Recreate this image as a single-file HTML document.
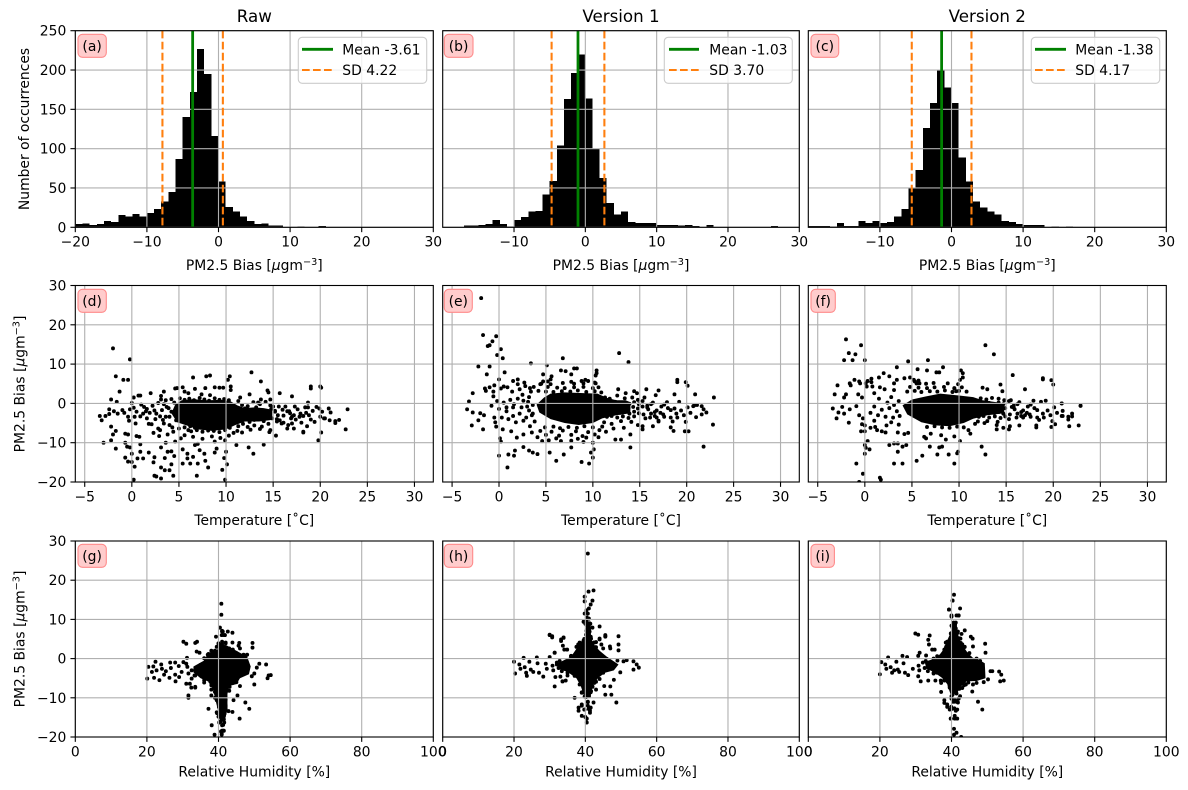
<!DOCTYPE html>
<html lang="en">
<head>
<meta charset="utf-8">
<title>PM2.5 bias</title>
<style>
html,body{margin:0;padding:0;background:#fff;}
svg{display:block;}
text{font-family:"DejaVu Sans","Liberation Sans",sans-serif;font-size:13.9px;fill:#000;}
.ttl{font-size:16.7px;text-anchor:middle;}
.xl{text-anchor:middle;}
.yl{text-anchor:middle;}
.lab{text-anchor:middle;}
.lab-box{fill:#ffcccc;stroke:#ff8a8a;stroke-width:1.1;}
.leg-box{fill:#fff;fill-opacity:.8;stroke:#ccc;stroke-width:1.1;}
.mean{stroke:#008000;stroke-width:2.78;}
.sd{stroke:#ff7f0e;stroke-width:2.08;stroke-dasharray:7.7 3.3;}
</style>
</head>
<body>
<svg xmlns="http://www.w3.org/2000/svg" width="1188" height="790" viewBox="0 0 1188 790">
<rect width="1188" height="790" fill="#fff"/>
<defs>
<clipPath id="c-a"><rect x="75.3" y="30.7" width="358" height="196.6"/></clipPath>
<clipPath id="c-b"><rect x="442.7" y="30.7" width="356.6" height="196.6"/></clipPath>
<clipPath id="c-c"><rect x="808.3" y="30.7" width="358" height="196.6"/></clipPath>
<clipPath id="c-d"><rect x="75.3" y="285.5" width="358" height="196.5"/></clipPath>
<clipPath id="c-e"><rect x="442.7" y="285.5" width="356.6" height="196.5"/></clipPath>
<clipPath id="c-f"><rect x="808.3" y="285.5" width="358" height="196.5"/></clipPath>
<clipPath id="c-g"><rect x="75.3" y="541" width="358" height="196"/></clipPath>
<clipPath id="c-h"><rect x="442.7" y="541" width="356.6" height="196"/></clipPath>
<clipPath id="c-i"><rect x="808.3" y="541" width="358" height="196"/></clipPath>
</defs>

<text class="ttl" x="254.3" y="22">Raw</text>
<text class="ttl" x="621" y="22">Version 1</text>
<text class="ttl" x="987.3" y="22">Version 2</text>

<g id="plot-a"></g>
<g id="plot-b"></g>
<g id="plot-c"></g>
<g id="plot-d"></g>
<g id="plot-e"></g>
<g id="plot-f"></g>
<g id="plot-g"></g>
<g id="plot-h"></g>
<g id="plot-i"></g>

<g>
<rect class="leg-box" x="298.3" y="37.3" width="128.4" height="46" rx="3.9"/>
<line class="mean" x1="302" x2="333" y1="49.3" y2="49.3"/>
<line class="sd" x1="302" x2="333" y1="70" y2="70"/>
<text x="342.3" y="54.5">Mean -3.61</text>
<text x="342.3" y="75.2">SD 4.22</text>
</g>
<g>
<rect class="leg-box" x="664.3" y="37.3" width="128" height="46" rx="3.9"/>
<line class="mean" x1="669" x2="699" y1="49.3" y2="49.3"/>
<line class="sd" x1="669" x2="699" y1="70" y2="70"/>
<text x="709.3" y="54.5">Mean -1.03</text>
<text x="709.3" y="75.2">SD 3.70</text>
</g>
<g>
<rect class="leg-box" x="1031.3" y="37.3" width="128.4" height="46" rx="3.9"/>
<line class="mean" x1="1035" x2="1066" y1="49.3" y2="49.3"/>
<line class="sd" x1="1035" x2="1066" y1="70" y2="70"/>
<text x="1075.3" y="54.5">Mean -1.38</text>
<text x="1075.3" y="75.2">SD 4.17</text>
</g>

<g><rect class="lab-box" x="78" y="34.3" width="28.3" height="23" rx="4.5"/><text class="lab" x="92.1" y="50.8">(a)</text></g>
<g><rect class="lab-box" x="444.3" y="34.3" width="28.7" height="23" rx="4.5"/><text class="lab" x="458.6" y="50.8">(b)</text></g>
<g><rect class="lab-box" x="811" y="34.3" width="27.7" height="23" rx="4.5"/><text class="lab" x="824.8" y="50.8">(c)</text></g>
<g><rect class="lab-box" x="78" y="289.3" width="28.3" height="23" rx="4.5"/><text class="lab" x="92.1" y="305.8">(d)</text></g>
<g><rect class="lab-box" x="444.3" y="289.3" width="28" height="23" rx="4.5"/><text class="lab" x="458.3" y="305.8">(e)</text></g>
<g><rect class="lab-box" x="811" y="289.3" width="24.3" height="23" rx="4.5"/><text class="lab" x="823.1" y="305.8">(f)</text></g>
<g><rect class="lab-box" x="78" y="544.3" width="28.3" height="23" rx="4.5"/><text class="lab" x="92.1" y="560.8">(g)</text></g>
<g><rect class="lab-box" x="444.3" y="544.3" width="28.4" height="23" rx="4.5"/><text class="lab" x="458.5" y="560.8">(h)</text></g>
<g><rect class="lab-box" x="811" y="544.3" width="23.4" height="23" rx="4.5"/><text class="lab" x="822.7" y="560.8">(i)</text></g>

<text class="xl" x="254.3" y="270">PM2.5 Bias [<tspan font-style="italic">μ</tspan>gm<tspan dy="-5" style="font-size:9.7px">−3</tspan><tspan dy="5">]</tspan></text>
<text class="xl" x="621" y="270">PM2.5 Bias [<tspan font-style="italic">μ</tspan>gm<tspan dy="-5" style="font-size:9.7px">−3</tspan><tspan dy="5">]</tspan></text>
<text class="xl" x="987.3" y="270">PM2.5 Bias [<tspan font-style="italic">μ</tspan>gm<tspan dy="-5" style="font-size:9.7px">−3</tspan><tspan dy="5">]</tspan></text>
<text class="xl" x="254.3" y="525">Temperature [˚C]</text>
<text class="xl" x="621" y="525">Temperature [˚C]</text>
<text class="xl" x="987.3" y="525">Temperature [˚C]</text>
<text class="xl" x="254.3" y="776.5">Relative Humidity [%]</text>
<text class="xl" x="621" y="776.5">Relative Humidity [%]</text>
<text class="xl" x="987.3" y="776.5">Relative Humidity [%]</text>
<text class="yl" transform="translate(29,129) rotate(-90)">Number of occurrences</text>
<text class="yl" transform="translate(24.3,384) rotate(-90)">PM2.5 Bias [<tspan font-style="italic">μ</tspan>gm<tspan dy="-5" style="font-size:9.7px">−3</tspan><tspan dy="5">]</tspan></text>
<text class="yl" transform="translate(24.3,639) rotate(-90)">PM2.5 Bias [<tspan font-style="italic">μ</tspan>gm<tspan dy="-5" style="font-size:9.7px">−3</tspan><tspan dy="5">]</tspan></text>

<script>
const binStart = -20;
const binWidth = 1;
const countsRaw = [4,5,3,4,8,7,15.5,14,17,14,18,23,33,45,87,140,172,227,195,116,58,26,20,14,8,4,5,2,2,.5,0,1,0,0,1.5];
const countsV1 = [0,0,0,2,2,3,4,9,4,1,9,13,20,21,42,59,104,163,196,220,164,100,63,31,16,20,7,5.5,5.5,5.5,3,3,3,2,3,1.5,0,3,0,0,0,0,0,0,0,0,1.5];
const countsV2 = [1.5,1.5,1.5,1,5.5,1.5,1.5,8,5.5,8,5.5,7,14,23,50,73,126,158,200,178,158,89,58,33,25,20,16,8,7,4,3,3,3,0,1,0,1];
const meanRaw = -3.61;
const sdRaw = 4.22;
const meanV1 = -1.03;
const sdV1 = 3.70;
const meanV2 = -1.38;
const sdV2 = 4.17;
const histTicksFull = [-20,-10,0,10,20,30];
const histTicksShort = [-10,0,10,20,30];
const countTicks = [0,50,100,150,200,250];
const tempTicks = [-5,0,5,10,15,20,25,30];
const humidityTicks = [0,20,40,60,80,100];
const biasTicks = [-20,-10,0,10,20,30];

/* outlines of the fully overplotted regions: [x value, bias] */
const denseTempRaw = [[4.6,-.3],[5.3,.8],[6.5,1.1],[8,.8],[9.5,.9],[10.5,.5],[11.2,-.5],[12,-1.2],[13,-1],[14,-1.2],[14.9,-1.6],[14.9,-4.2],[13.5,-4.6],[12,-4.6],[11,-5.5],[10,-6.6],[8.5,-7],[7,-6.6],[5.8,-5.6],[4.8,-4.8],[4.2,-2.5]];
const denseTempV1 = [[4,-.3],[4.8,1.5],[5.5,2.5],[7,2.8],[9,2.6],[10.5,2.5],[11.5,1.4],[12.5,.8],[13.5,.8],[14,.3],[14,-2.5],[12.5,-3],[11,-3.8],[10,-5],[8.5,-5.5],[7,-5],[5.5,-4],[4.3,-2.3]];
const denseTempV2 = [[4,-.5],[5,1],[6.5,1.8],[8,2.5],[10,2],[11.5,1.6],[12.5,.8],[14,.3],[14.8,-.2],[14.8,-2.5],[13,-3],[11.5,-3.9],[10.5,-5],[9,-5.8],[7.5,-5.6],[6,-4.8],[4.5,-2.8]];
const denseHumidityRaw = [[33,-2],[36,-.5],[37.5,1.5],[40,2],[42,3.5],[44,2.5],[46,1.5],[48,.5],[49,-2],[48.5,-4],[46,-5],[45,-6.5],[43,-7],[42.5,-9],[42.5,-13],[41.7,-16],[40.5,-16],[39.8,-13],[39,-10],[38.5,-8],[37.5,-6],[35,-5],[33,-3.5]];
const denseHumidityV1 = [[32,-1.3],[36,.5],[37.5,2.5],[38.5,4],[40,5.5],[40.3,9.5],[41.5,9.5],[41.6,5],[42.5,3.5],[44,2],[46,.5],[48,-.7],[49.3,-1.5],[48,-3],[45.5,-3.6],[43.5,-5],[42,-7],[41.5,-9.5],[39.7,-9.5],[38.7,-7],[37.5,-5],[35,-3.4],[33,-2.8]];
const denseHumidityV2 = [[32.5,-.8],[36,.2],[37.5,2],[38.5,4],[39.7,6.5],[40.4,9.5],[41.3,9.5],[42,5.5],[43,3.5],[44.5,1.5],[46,.2],[48,-.5],[49.3,-1.2],[49.5,-5],[47,-5.7],[44,-5.8],[42.3,-7.5],[41.5,-9],[39.7,-9],[38.8,-6.5],[37.5,-5],[35,-3.4],[33,-2.6]];

/* samples: [temperature, relative humidity, bias] */
const samplesRaw = [
[5.1,38.6,1.3],[5.6,43,.9],[6.1,37.2,1.2],[6.6,41.5,.8],[7.2,45,1.4],[7.7,39.5,1],[8.2,46.2,.7],[8.8,42.2,1.3],[9.3,40.4,.9],[9.8,44,1.1],[10.3,47.6,.8],
[5.6,39.8,-6.1],[6.2,43.5,-5.8],[6.7,38.8,-6.2],[7.2,41.3,-5.9],[7.8,45,-6],[8.3,40.2,-6.3],[8.8,37.7,-5.8],[9.3,42.3,-6.1],[9.8,39.3,-5.9],[10.4,44,-6.2],
[6.3,41,-7.1],[6.9,38.9,-6.8],[7.5,43.1,-7.2],[8.1,40.6,-6.9],[8.7,42.5,-7],[9.3,39.7,-7.3],[9.9,41.8,-6.8],
[-2,40.8,14],[-.2,40.8,11.2],[12.7,40.4,7.9],[-1.7,41,6.9],[6.5,43.9,6.6],[7.9,42.6,6.9],[8.3,41,7.1],[10.4,41.2,6.9],[10.2,40.9,6],[-.9,41.6,6],[-.4,41.8,6],[13.7,39.3,5.6],
[-1.3,41,3],[-2.2,40,1],[-1.6,40.5,.4],[19,30.2,4.3],[19,31,3.8],[20,34,4.3],[20.1,33.5,4],[4.6,40,3.8],[4.8,42,3.9],[6.7,41,3.7],[7.8,40,3.9],[8.8,43.9,4.1],[9.3,45.8,4],[9.7,49.5,4],[10.5,41,4.3],[10.5,40.5,3.4],[5.4,42,4.1],[5.6,39.5,3],[3.4,41.5,3],[2,40.5,2.6],[.7,38,2],[.9,39,2],[.2,38.5,1.5],[3.1,39.8,1.9],[6,43,2.6],[7.4,40.9,2.3],[8.3,42,2.1],[14.4,45.6,3.3],[14.5,49.5,2.8],[15.7,46,2.6],[12.5,44,2.3],[17,33.9,1.8],[18.7,31.2,.2],[11.5,34.7,1.5],[13.7,47,1],[14.7,48,1],
[-3,31.6,-10],[-2.2,31.6,-9.4],[-1.7,41,-11.5],[-2,40,-7.9],[-2.2,39,-5.9],[-1.7,40.5,-7],[-.7,39,-10],[-.7,41,-7.7],[-.4,42,-7.9],[-.5,40,-11],[-.2,41.5,-11.2],[-.7,41,-13.8],[-.4,40,-14.8],[0,41,-14.9],[.3,40.5,-16.1],[.2,38.9,-19.4],[0,42,-12.8],[.6,40,-14],[1.2,41,-14],[1.8,40.3,-12.5],[.9,41.2,-12.3],[2.4,39.5,-13.7],[2.3,40.7,-15],[2.4,41,-18.4],[2.6,40.7,-18.6],[3.1,40.9,-19.1],[3.1,41.6,-16.3],[3.5,38.1,-17],[4,41,-17],[4.4,41.5,-18.4],[4.2,41,-15.5],[4.5,42.8,-13.4],[3.5,39.6,-13.9],[3.8,40.1,-12.3],[4.2,41.7,-12.2],[3.1,40.4,-11.2],[3.6,41.1,-10],[4.6,39.7,-9.7],[5.4,40.8,-15.3],[5.9,41.7,-14],[6.2,41,-15.3],[6.5,43.9,-13.6],[7,45.9,-15.3],[6.9,41.3,-18.4],[8.1,40.2,-16.3],[7.8,41.5,-14.6],[7.2,42,-11.9],[6.7,39.5,-10.6],[5.4,40.8,-11.7],[5.9,41.2,-12.8],[7.7,37.2,-12.8],[8.8,40.9,-12.5],[9,41.7,-11.5],[9.6,41.3,-16.9],[9.9,40.9,-19.4],[9.8,40.5,-13.9],[10,42,-12.3],[10.1,41.5,-15.5],[9.9,45.3,-9.4],[11.1,44.2,-10.6],[12.4,47.5,-11.2],[12.9,48.6,-12.8],[14,42,-10.5],[15.3,43,-8.2],[19.8,38,-9.4],[20.1,32.4,-7.4],[22.7,50,-6.6],[18.2,33.5,-7.4],
[11.3,38,.6],[11.7,42,-.4],[12,44.5,-1.3],[12.4,40,-2.3],[12.8,46,-3.2],[13.2,39,-1],[13.6,43,-.2],[14,47,-2],[14.4,41,-3.6],[14.8,37,-1.4],[11.5,45,-4.2],[12,41,-3.4],[12.5,39.5,-4.7],[13,44,-4.2],[13.5,38.5,-3.3],[14,42,-4.5],[14.5,46,-2.6],[15,40,-.8],[11.4,37,-2.8],[11.8,47.5,-2],[12.3,43,-.7],[12.9,41.5,.3],[13.4,45.5,.2],[14.2,39,.4],[14.7,43,-.5],[11.3,42.5,-5.8],[11.8,40,-5.2],[12.3,44,-6],[13,38,-5.6],[13.8,41,-5.9],[14.5,39,-5.2],[14.9,43,-3.8],[11.2,46,-7],[11.7,39,-7.4],[12.6,41,-6.7],[13.6,42,-6.5],[14.6,40.5,-7.3],[14.7,38,-6.8],
[15.2,20.4,-2.1],[15.9,20.1,-5.1],[16.3,22.4,-.8],[16.7,21.8,-2],[17,21.4,-3.4],[17.2,22.7,-3],[16.1,22,-4.9],[16.6,23.5,-5.5],[17.6,24,-1.5],[17.9,24.2,-2.6],[17.4,24.8,-4.1],[18.2,25.3,-3.2],[18.7,26.5,-1],[18.5,26.7,-2.4],[18,26.3,-4.9],[18.4,27.9,-1],[18.6,28,-5.8],[19,27.9,-4.1],[19.2,28.9,-1.9],[19.4,29,-4.7],[19.6,30.2,-.9],[19.9,31,-1.3],[20,29.7,-3.4],[20.2,31.3,-2.1],[20.5,31.6,-3.8],[17.2,31,-6.4],[16.5,32,-6.4],[18.2,33.5,-7.2],[17,32.5,-5.1],[15.5,32.5,-3],[15.7,33.3,-4.3],[20.9,51.4,-1.3],[21.1,50.7,-2.3],[22.9,53.3,-1.5],[21,54,-4.3],[22,54.6,-4.2],[21.6,53.7,-5],[20.4,50,-3.8],[21.6,49.3,-4.5],[16,35,-1.6],[16.8,34,-2.5],[15.4,36,-4],[18.8,35,-3],
[-3.4,34,-3.2],[-3.2,35,-4.3],[-2.8,36,-3.2],[-2.4,35.5,-1.5],[-2.4,37,-2.7],[-1.9,38,-2],[-1.5,36.5,-2.6],[-1,37.5,-1.7],[-.8,39,-2.4],[-.4,38,-3.4],[-.3,39.5,-4.4],[0,40,.1],[.2,38.5,-1.1],[.5,36,-2.1],[.4,41,-5.1],[.5,40,-8.3],[.8,39,-8.5],[.9,41,-10.4],[1.2,37,-2.6],[1.3,38,-.9],[1.6,36,-3.8],[1.9,39,-2.4],[2.1,37.5,-5.3],[2.3,41,-7.5],[2.2,36.5,-.6],[2.6,40,-2.6],[2.8,38,-6.4],[2.9,42,-8.3],[3.1,37,1],[3.2,35,-1.7],[3.4,40,-5.1],[3.6,34.5,-3.4],[3.7,38,-.9],[4,36,-5.5],[4.2,39.5,-2.1],[4.4,42,-7.2],[4.5,37,.2],[4.7,33.5,-4.3],[5,41,-6.4],[5.6,40,-8.1],[6,42,-6.8],[6.5,39.5,-8.5],[7.5,41,-9],[8.5,40,-8.4],[9.4,41.5,-8.8],[10.3,42.2,-8.2],[10.8,40.5,-7.5],[5.2,41,-8.9],[8.8,40.8,-9.7],[7,40.3,-10.3],
[1,37,-.3],[1.6,39,-1.4],[2.4,35,-1.8],[3,38,-3.3],[3.4,36.5,-.2],[3.9,40,-1.2],[4,37,-3.4],[3.3,41,-4.2],[2.5,38,-4],[1.5,39.5,-2],[.9,36.5,-3.3],[2.8,36,.1],[3.6,39,.8],[4.2,41,1.1],[1.8,38.6,-5.2],[.3,37.5,-3.4],[-.2,38,-1.5],[4.3,36,-6.1],[3,39.5,-6.8],[3.8,38,-7.9],[15.2,37,-1.9],[15.6,38,-.8],[16.1,36,-3.1],[16.5,39,-2],[16.9,37,-3.8],[15.4,38,-4.6],[17.3,36.5,-.8],[17.8,38,-3.4]
];
const samplesV1 = [
[4.9,40,-6.1],[5.8,41.5,-5.9],[6.5,39.4,-6.3],[7.4,42.3,-6],[8.3,40.6,-6.2],[9.1,39,-5.8],[10,41,-6.1],[11,43,-5.9],[4.4,39.7,-7],[5.6,41,-7.2],[6.8,40.2,-6.9],[8.2,42,-7.1],[9.5,39.5,-7.3],[10.7,40.8,-6.8],[5,41.3,-8],[6.4,39.8,-8.2],[7.7,40.5,-8],[8.9,41.6,-8.3],[10.2,39.6,-7.9],[6.1,41,-8.9],[8.4,40,-9],[9.3,40.9,-8.7],
[4.2,39,3.2],[5,41,3],[5.8,43,2.9],[6.7,40,3.1],[7.6,38.6,3],[8.4,41.8,3.3],[9.3,42.8,2.9],[10.2,39.8,3.1],[10.9,41,2.8],[5.2,40.4,4.2],[6.2,41.4,4],[7,39.4,3.9],[8,42.4,4.1],[9,40.6,4.2],[10,41.2,3.9],[10.6,38.4,4.1],[4.5,40,5],[5.5,41,4.9],[6.8,40.7,5.2],[8,39.7,5],[9,41.6,5.1],[10.2,40.5,5.3],
[11.3,38,1.5],[11.8,43,1.2],[12.6,41,2],[13.4,39,1.3],[14.2,42,1.5],[14.8,44,.9],[11.4,45,.3],[11.9,40,-.2],[12.4,37,.4],[12.9,43.5,-.3],[13.4,41,.2],[13.9,46,-.1],[14.4,39,.3],[14.9,42.5,-.2],[11.3,41.5,-1.1],[11.8,36,-1.4],[12.3,44.5,-.9],[12.8,39.5,-1.3],[13.3,47,-1],[13.8,42,-1.2],[14.3,38,-.9],[14.8,45,-1.3],[11.4,43,-2.2],[11.9,40.5,-2.5],[12.4,46.5,-2.1],[12.9,37.5,-2.4],[13.4,42,-2.2],[13.9,44,-2.6],[14.4,40,-2.1],[14.9,47.5,-2.5],[11.5,38.5,-3.4],[12,42.5,-3.2],[12.6,45,-3.6],[13.2,40,-3.3],[13.8,43,-3.7],[14.4,41,-3.3],[11.2,41,-4.8],[12,44,-5.2],[13,39.5,-4.5],[14.1,42,-4.7],[14.8,40,-5.5],
[15.3,20,-.8],[15.6,20.3,-3.8],[15.9,21.5,-1.5],[16.2,21.8,-2.6],[16.4,22.7,.2],[16.6,23,-2.2],[16.8,23.4,-3.6],[17,23.6,-4.4],[17.3,24.3,-.8],[17.5,24.7,-2.8],[17.6,25.4,-3.4],[17.9,26.4,.3],[18,26.6,-1.2],[18.3,27,-3.6],[18.5,28.2,-4.6],[18.7,28.9,-1.3],[18.9,29.2,-2.6],[19.2,30,.4],[19.4,30.8,-1.8],[19.7,31,-3],[19.9,31.6,-4.7],[20.1,32,-1],[20.4,32.5,-2.4],[17,33,-4.6],[16.4,33.6,-5.8],[15.5,31.4,1.5],[15.8,32.8,-.6],[16.6,33.4,-3.2],[18.3,34,-1.7],[19,35,-3.6],
[20.7,50.7,-.7],[21.1,51.6,-.4],[21.6,53.5,-.7],[21.8,54.4,-1.5],[22.1,55,-2.3],[21.6,53.5,-2.8],[21,49.8,-3.5],[20.8,49,-.5],[22.8,48,-5.4],[19.8,47,-7.1],
[-1.9,40.7,26.8],[-1.7,42.3,17.4],[-.3,40.9,17.1],[-.7,39.8,15.8],[-1,42,14.8],[-1.2,39.8,14.6],[.2,41.5,13.8],[-.2,40.3,12.3],[.4,39.8,11.5],[-2.2,39.5,9.4],[-1,40.3,9.4],[.6,42,7.9],[-1.3,40.5,7.4],[3.4,41,10.2],[5.1,40.2,9.7],[6.8,40.7,11.5],[12.8,41,12.8],[13.8,40.4,10.5],[6.6,40.4,8.4],[7.1,44,8.2],[7.7,41,7.4],[8,40,8.9],[8.3,41.4,8.9],[10.4,40.7,8.4],[10.4,41,7.7],[10.3,40.3,7.1],[4.7,40.6,7.4],[5.6,41.2,6.9],[5.5,40.7,6.1],[5.2,41.5,5.6],[4.7,45.6,5.6],[4.4,44,4.9],[3.3,42,3.9],[3.7,43,4.2],[2,30,6.1],[1.5,30.7,5.7],[2.7,33.9,5.3],[2,33.2,4.9],[0,40.2,6.1],[.2,40.9,3.8],[.5,39.8,4.3],[.9,41.4,4.1],[-.5,39.5,4.6],[-1,42.5,4.1],[-1.5,38.5,3.8],[-1.4,38,3.2],[-2.8,38.5,2.6],[-.6,37.5,3],[-.6,41,1.8],[-3.2,37,.5],
[9.2,45.6,6],[9.5,45.6,5.7],[10.3,44,5.1],[7.7,41.5,5.5],[8.8,49.3,5.7],[14.4,46.9,3.1],[15.7,49.3,3.6],[17,33.7,3.3],[19,30,6],[19,30.7,5.4],[19.9,33.9,5.4],[20.1,33.2,4.5],[12.7,44.5,3.6],[18.7,34.1,2.3],[20.9,34.9,2.3],[22.9,31.4,1.5],[16.7,49.3,2.1],[14.7,45,2.6],[13.5,47,2.6],
[-3.4,32,-1.5],[-2.8,33,-2.3],[-2.9,34.5,-5.6],[-2.2,35,-4.3],[-2,37,-2.5],[-1.7,38.4,-6.6],[-1.6,38,-3],[-.5,39,-3.6],[-.4,41,-4.8],[-.3,40,-5.9],[.1,40.3,-8.9],[.2,39.8,-9.7],[.4,41.5,-6.6],[1.3,40,-7.1],[1.9,39,-8.7],[2.6,41,-7.9],[2.6,40.7,-11.1],[3.2,39,-12],[3.6,38.1,-12.5],[4.1,41,-12.9],[5.4,41.5,-12.5],[6.9,39.7,-13],[6.1,39,-14.6],[7.7,42.3,-11.2],[8.8,40,-14.9],[9.6,40.4,-15.3],[9.8,41,-12.5],[10.1,39,-11.7],[10,41.3,-13.8],[10,37,-10],[13,45.6,-9.2],[12.4,47.3,-9.2],[0,41.3,-13.3],[1,39.8,-13],[1.7,40.7,-12],[1.6,38.1,-13.3],[.9,40.4,-16.3],[14,48.7,-11.2],[15.3,33.6,-5.8],[20.2,31.4,-7.1],[18.3,42,-6.1],[18.6,45.3,-7],[21.8,40.7,-11],[14,43,-7.9],[15.3,40,-6.6],
[-.2,36,.6],[.5,38,.2],[1.2,37,.9],[2,39,1.2],[2.6,36,.7],[3.2,38.5,1.6],[-.8,38,-.6],[0,36.5,-1.4],[.8,39.5,-2],[1.5,35,-1],[2.2,37.5,-2.6],[3,34.5,-.8],[3.5,39,-3],[.3,40,-3.6],[1,38,-4],[1.8,40.5,-4.8],[2.6,37,-4.4],[3.3,41,-5.8],[3.8,38.6,-4.6],[3.5,40,-7.4],[4.1,39,-8.6],[4.6,41,-9.6],[5.3,40,-9.4],[6.6,40.5,-9.6],[7.7,41,-9.5],[9,40.2,-9.8],[10.6,41.5,-8.6],[11.4,42,-7.2],[12.2,40.5,-6.4],[13.3,42.5,-6.2],
[2.5,38,2.2],[3.1,37,.4],[3.6,36,-.4],[1.6,36.5,-.2],[2.4,38,-1],[3.2,37,-1.8],[.8,37,-1],[1.5,39,-3.2],[2.9,39.5,-3.6],[3.6,37.5,-2.6],[1.4,38.5,3],[3.4,41,3],[2.8,40,4.4],[2.2,38,3.6],[15.3,36,.6],[15.8,37,-1],[16.2,38,-.2],[16.8,36,-1.8],[15.4,39,-2.8],[16.1,37,-3.6],[17.2,38,-2.4],[17.6,36,-.3]
];
const samplesV2 = [
[6.6,41,-6],[7.4,43.5,-5.8],[8.2,39.8,-6.1],[9,47,-6.2],[9.8,42,-5.9],[10.5,44.7,-6.1],
[4.5,39.5,3],[5.3,41.5,3.2],[6,43.5,2.9],[6.9,40.3,3.1],[7.7,38.5,3],[8.5,42,3.3],[9.3,39.7,2.9],[10,41,3.2],[10.8,43.7,3],[4.8,40.6,4.2],[5.7,42.6,4],[6.6,39.3,3.9],[7.4,41.4,4.1],[8.4,40.2,4.2],[9.5,42.4,3.9],[10.3,39,4.1],[5.5,40,5.1],[6.5,41,5],[7.3,42,5.2],[8.8,40.7,5.1],[9.9,41.6,4.9],[5.2,41,6],[5.7,40.3,5.8],[10.1,41.2,6],
[12.3,38,1.3],[12.9,42,1],[13.5,45,1.4],[14.2,40,1.2],[14.8,43,.8],[12.2,39,.2],[12.7,44,-.2],[13.2,41,.1],[13.7,46,-.3],[14.2,38,.2],[14.7,43,-.2],[12.4,41.5,-1.1],[12.9,37,-1.4],[13.4,44.5,-.9],[13.9,40,-1.3],[14.4,47,-1],[14.9,42,-1.2],[12.2,43,-2.2],[12.7,40.5,-2.5],[13.2,46.5,-2.1],[13.7,38,-2.4],[14.2,42,-2.2],[14.7,44,-2.6],[12.1,38.5,-3.4],[12.6,42.5,-3.2],[13.2,45,-3.6],[13.8,40,-3.3],[14.4,43,-3.7],[14.9,41,-3.3],[12,44,-4.6],[13,40,-4.5],[14.1,46,-4.7],[11.7,41,-5.2],[12.7,47,-5],[13,43,3.6],[12.5,42,4],[14.4,41,4.8],[14.6,40,3.1],
[15.3,20,-4],[15.6,20.4,-.9],[15.9,21.5,-1.5],[16.2,21.8,-2.6],[16.4,22.3,.3],[16.6,23,-2.2],[16.8,23.4,-3.6],[17,24,-3],[17.3,24.6,-.8],[17.5,25,-2.8],[17.6,25.4,-3.4],[17.9,26.3,.7],[18,26.6,-1.2],[18.3,27,-3.6],[18.5,27.9,-4.2],[18.7,27.6,.4],[18.9,29.2,-2.6],[19.2,30.7,.7],[19.4,30.8,-1.8],[19.7,31,-3],[19.9,30.7,-4.5],[20.1,32,-1],[20.4,32.5,-2.4],[15.4,31.4,-5.8],[16.4,33.5,-5.6],[15.5,32.9,.8],[15.8,32.8,-.6],[16.6,33.4,-3.2],[18.3,34,-1.7],[19,35,-3.6],[18.2,35.5,-5.6],
[20.9,50.9,-3.2],[21,51.4,-3.2],[22,53.3,-3.3],[21.6,53.9,-4.1],[21.7,53.6,-5.8],[22.7,54.6,-5.6],[20.2,50.2,-5.3],[19.8,49,-6],[22.9,48,-.6],[20.9,47,0],
[-2,40.7,16.3],[-1.7,42.4,12.8],[-1,39.3,12.5],[-.4,40.3,14.8],[-2.2,40,11],[-1.3,42,11],[0,41.4,11],[3.4,40.6,9.2],[4.6,40,10.7],[5.6,41,8.7],[6.7,42,11],[6.6,40,8.4],[7.6,41,7.9],[7.9,40.3,7.9],[8.3,41.2,9.2],[12.8,40.3,14.8],[13.7,39.3,12.5],[10.2,40.6,8.4],[10.4,41,7.7],[10.4,40.2,6.6],[15.7,43.7,7.2],[17,33.7,3.6],[18.9,29.9,6.4],[18.9,30.7,6.1],[19.8,33.9,5.9],[20,33.5,4.8],[1.5,40.5,6.6],[2,41.2,7.7],[2.6,41.8,6.9],[-2.9,39.5,4.6],[-3.2,38,2.3],[-1.6,42.3,5.1],[-1.5,40.3,4.6],[-1.1,41,6],[-.6,40,5.6],[-.5,41.6,5.1],[.1,39.8,5.1],[.3,40.8,5.7],[.7,42.8,6.3],[.7,41.4,5.4],[.8,38.8,4.3],[.2,39.3,4.3],[1.6,38.4,4.1],[2.1,43,3.6],[3.1,40,3.4],[3.1,42.5,5.1],[3.4,40.8,6],[4.2,39.8,6.4],[4.8,41.7,6.6],[5.3,45.4,5.6],[5.5,45.9,5.1],[5.8,42.3,5.1],[9.5,49.4,3.8],[9.7,46,3.1],[-2.2,49.5,1.5],[-2,34.6,2.3],[-.7,35.3,2.3],[-.3,31.1,1.5],
[-3.4,34,-1.3],[-3,35,-3.8],[-2.8,36,-2.3],[-2.2,37,-2.6],[-2.4,35.5,-.9],[-1.7,38,-4.9],[-1.6,37.5,-1.5],[-.9,38.5,-.7],[-.6,37,-3],[-.2,39,-3.8],[-.3,40,-5.3],[0,38,-5.6],[-.4,41,-7.1],[0,39.5,-7.1],[.6,37.1,-6.2],[1.1,41,-6],[1.3,39.5,-6.8],[1.8,40.5,-7.1],[2.2,42,-7.4],[2.3,37,-5.6],[.3,40,-9.6],[0,38,-10.6],[.1,38,-11.3],[.5,38.8,-11.7],[0,40.2,-12.8],[-.9,39.8,-15.3],[-.2,40.7,-17.9],[-.6,42.7,-20],[1.6,41.4,-18.9],[1.7,40.7,-19.4],[2.6,41,-10.6],[3.1,40,-10.2],[3.5,42,-10.2],[3.5,38.8,-12.3],[4,41.5,-11],[4.4,40.5,-10.6],[3.1,40.9,-15.3],[4,41.6,-15.3],[5.5,40.9,-14.6],[6.1,41.2,-13.3],[6.9,40.4,-11],[7.7,39.5,-13],[7.9,41.8,-11.2],[8.2,40.8,-11],[8.9,41.6,-13],[9.8,40.8,-12.7],[9.9,39.9,-12.3],[9.5,39.8,-15.3],[10.1,42.4,-9.6],[9.5,45.8,-8.4],[8.6,40.3,-9.2],[8.1,41,-8.1],[7,42.2,-7.7],[6.3,37.1,-8.5],[6.5,41.4,-8.9],[4.2,40.5,-7.8],[4.6,43,-7.5],[3.5,39.5,-7.4],[11,43.5,-6.8],[11.2,41,-7.7],[12.4,47.4,-11],[12.8,48.6,-13],[14,42.5,-5.5],[14,44,-6.6],[14.7,41,-6.2],[15.3,46,-6.6],[18.2,40.5,-6.1],[22.9,42,-.6],[22,40,-2.6],[21.6,39,-3.4],[21,36,-1.9],[20.9,35,0],
[1.5,38,1.2],[2.4,36.5,.2],[3.1,38,-.4],[3.6,36,.6],[1,37,-.8],[1.8,36,-1.6],[2.6,38.5,-1.2],[3.4,37,-2],[.6,38,-2.4],[1.4,39,-3],[2.2,37,-3.4],[3,39,-3.6],[3.7,38,-3.2],[1,39.5,-4.4],[2.8,40,-4.8],[3.6,39,-5.4],[2.8,38,1.6],[1,39,2.6],[15.3,37,.6],[15.8,38,-1],[16.2,36,-.2],[16.8,37,-1.8],[15.4,38,-2.8],[16.1,36,-3.6],[17.2,38,-2.4],[17.6,37,-.3]
];

const SVGNS = 'http://www.w3.org/2000/svg';
const GRID_COLOR = '#b0b0b0';

function mk(tag, parent, attrs) {
  const el = document.createElementNS(SVGNS, tag);
  for (const k in attrs) el.setAttribute(k, attrs[k]);
  parent.appendChild(el);
  return el;
}
function linear(d0, d1, r0, r1) {
  return function (v) { return r0 + (v - d0) * (r1 - r0) / (d1 - d0); };
}
function fmt(v) { return v < 0 ? '\u2212' + Math.abs(v) : String(v); }

function drawFrame(g, box, xs, ys, xTicks, yTicks) {
  xTicks.forEach(function (t) {
    const gl = mk('line', g, {x1: xs(t), x2: xs(t), y1: box.top, y2: box.bottom, stroke: GRID_COLOR, 'stroke-width': 1.11});
    
    
  });
  yTicks.forEach(function (t) {
    const gl = mk('line', g, {x1: box.left, x2: box.right, y1: ys(t), y2: ys(t), stroke: GRID_COLOR, 'stroke-width': 1.11});
    
    
  });
}
function drawAxes(g, box, xs, ys, xTicks, yTicks, showY) {
  const frame = mk('rect', g, {x: box.left, y: box.top, width: box.right - box.left, height: box.bottom - box.top, fill: 'none', stroke: '#000', 'stroke-width': 1.11});
  
  
  xTicks.forEach(function (t) {
    const tk = mk('line', g, {x1: xs(t), x2: xs(t), y1: box.bottom, y2: box.bottom + 4.86, stroke: '#000', 'stroke-width': 1.11});
    
    
    const lb = mk('text', g, {x: xs(t), y: box.bottom + 19.4, 'text-anchor': 'middle'});
    
    
    lb.textContent = fmt(t);
  });
  if (!showY) return;
  yTicks.forEach(function (t) {
    const tk = mk('line', g, {x1: box.left - 4.86, x2: box.left, y1: ys(t), y2: ys(t), stroke: '#000', 'stroke-width': 1.11});
    
    
    const lb = mk('text', g, {x: box.left - 9, y: ys(t) + 5, 'text-anchor': 'end'});
    
    
    lb.textContent = fmt(t);
  });
}
function drawHist(id, box, counts, mean, sd, xTicks, showY) {
  const g = document.getElementById('plot-' + id);
  const xs = linear(-20, 30, box.left, box.right);
  const ys = linear(0, 250, box.bottom, box.top);
  const marks = mk('g', g, {'clip-path': 'url(#c-' + id + ')', 'shape-rendering': 'crispEdges'});
  
  
  counts.forEach(function (c, i) {
    if (c <= 0) return;
    const left = binStart + i * binWidth;
    const bar = mk('rect', marks, {x: xs(left), y: ys(c), width: xs(left + binWidth) - xs(left), height: ys(0) - ys(c), fill: '#000'});
    
    
  });
  drawFrame(g, box, xs, ys, xTicks, countTicks);
  const ml = mk('line', g, {class: 'mean', x1: xs(mean), x2: xs(mean), y1: box.top, y2: box.bottom});
  
  
  const sl = mk('line', g, {class: 'sd', x1: xs(mean - sd), x2: xs(mean - sd), y1: box.top, y2: box.bottom});
  
  
  const su = mk('line', g, {class: 'sd', x1: xs(mean + sd), x2: xs(mean + sd), y1: box.top, y2: box.bottom});
  
  
  drawAxes(g, box, xs, ys, xTicks, countTicks, showY);
}
function drawScatter(id, box, samples, dense, xField, xMin, xMax, xTicks, showY) {
  const g = document.getElementById('plot-' + id);
  const xs = linear(xMin, xMax, box.left, box.right);
  const ys = linear(-20, 30, box.bottom, box.top);
  const marks = mk('g', g, {'clip-path': 'url(#c-' + id + ')', fill: '#000'});
  
  
  const core = mk('polygon', marks, {points: dense.map(function (p) { return xs(p[0]) + ',' + ys(p[1]); }).join(' ')});
  
  
  samples.forEach(function (s) {
    const dot = mk('circle', marks, {cx: xs(s[xField]), cy: ys(s[2]), r: 1.95});
    
    
  });
  drawFrame(g, box, xs, ys, xTicks, biasTicks);
  drawAxes(g, box, xs, ys, xTicks, biasTicks, showY);
}

const colA = {left: 75.3, right: 433.3};
const colB = {left: 442.7, right: 799.3};
const colC = {left: 808.3, right: 1166.3};
const rowH = {top: 30.7, bottom: 227.3};
const rowT = {top: 285.5, bottom: 482};
const rowR = {top: 541, bottom: 737};
function box(c, r) { return {left: c.left, right: c.right, top: r.top, bottom: r.bottom}; }

drawHist('a', box(colA, rowH), countsRaw, meanRaw, sdRaw, histTicksFull, true);
drawHist('b', box(colB, rowH), countsV1, meanV1, sdV1, histTicksShort, false);
drawHist('c', box(colC, rowH), countsV2, meanV2, sdV2, histTicksShort, false);
drawScatter('d', box(colA, rowT), samplesRaw, denseTempRaw, 0, -6, 32, tempTicks, true);
drawScatter('e', box(colB, rowT), samplesV1, denseTempV1, 0, -6, 32, tempTicks, false);
drawScatter('f', box(colC, rowT), samplesV2, denseTempV2, 0, -6, 32, tempTicks, false);
drawScatter('g', box(colA, rowR), samplesRaw, denseHumidityRaw, 1, 0, 100, humidityTicks, true);
drawScatter('h', box(colB, rowR), samplesV1, denseHumidityV1, 1, 0, 100, humidityTicks, false);
drawScatter('i', box(colC, rowR), samplesV2, denseHumidityV2, 1, 0, 100, humidityTicks, false);
</script>
</svg>
</body>
</html>
